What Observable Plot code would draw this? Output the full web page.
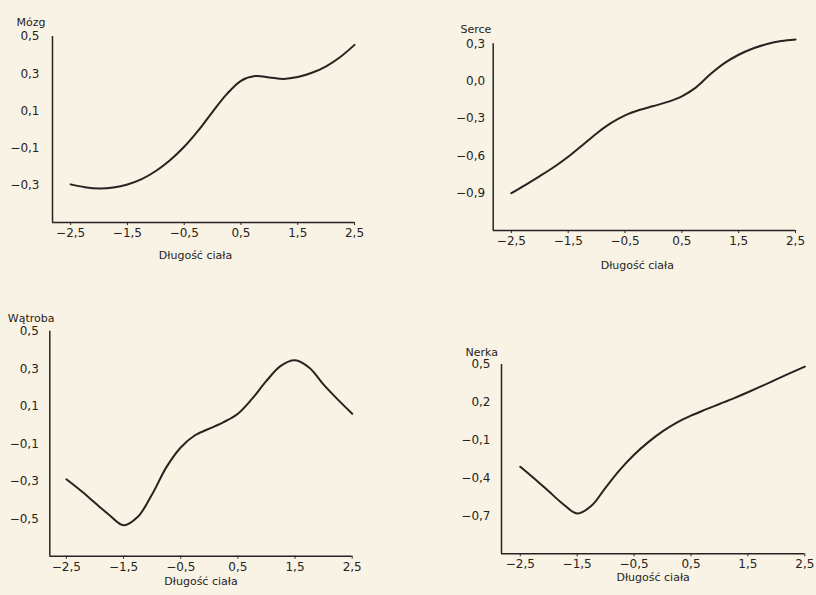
<!DOCTYPE html>
<html>
<head>
<meta charset="utf-8">
<script src="https://cdn.jsdelivr.net/npm/d3@7"></script>
<script src="https://cdn.jsdelivr.net/npm/@observablehq/plot@0.6"></script>
<style>
  html, body { margin: 0; padding: 0; background: #f9f3e5; }
  #wrap { position: relative; width: 816px; height: 595px; overflow: hidden; background: #f9f3e5; }
  #wrap > svg { position: absolute; background: transparent; }
</style>
</head>
<body>
<div id="wrap"></div>
<script>
// ---- data ----
const xValues = [-2.5, -2.25, -2.0, -1.75, -1.5, -1.25, -1.0, -0.75, -0.5, -0.25, 0.0,
                 0.25, 0.5, 0.75, 1.0, 1.25, 1.5, 1.75, 2.0, 2.25, 2.5];

const mozg    = [-0.295, -0.31, -0.317, -0.312, -0.296, -0.267, -0.223, -0.165, -0.093, -0.005, 0.095,
                 0.19, 0.262, 0.287, 0.28, 0.272, 0.282, 0.305, 0.34, 0.39, 0.455];
const serce   = [-0.9, -0.833, -0.763, -0.69, -0.608, -0.515, -0.42, -0.338, -0.275, -0.232, -0.2,
                 -0.167, -0.122, -0.05, 0.055, 0.145, 0.212, 0.262, 0.298, 0.322, 0.335];
const watroba = [-0.29, -0.35, -0.415, -0.48, -0.535, -0.49, -0.37, -0.225, -0.12, -0.055, -0.02,
                 0.015, 0.06, 0.14, 0.235, 0.315, 0.345, 0.305, 0.215, 0.135, 0.06];
const nerka   = [-0.31, -0.405, -0.505, -0.605, -0.68, -0.62, -0.475, -0.335, -0.215, -0.115, -0.03,
                 0.04, 0.095, 0.142, 0.187, 0.232, 0.28, 0.33, 0.382, 0.433, 0.483];

const xTicks = [-2.5, -1.5, -0.5, 0.5, 1.5, 2.5];
const mozgTicks    = [-0.3, -0.1, 0.1, 0.3, 0.5];
const serceTicks   = [-0.9, -0.6, -0.3, 0.0, 0.3];
const watrobaTicks = [-0.5, -0.3, -0.1, 0.1, 0.3, 0.5];
const nerkaTicks   = [-0.7, -0.4, -0.1, 0.2, 0.5];

const xLabel = "Długość ciała";

// ---- drawing ----
const ink = "#262321";
const fmt = d => (d < 0 ? "\u2212" : "") + Math.abs(d).toFixed(1).replace(".", ",");

function panel(cfg) {
  const data = xValues.map((x, i) => ({x, y: cfg.values[i]}));
  const p = Plot.plot({
    width: cfg.W, height: cfg.H,
    marginLeft: cfg.mL, marginRight: cfg.mR, marginTop: cfg.mT, marginBottom: cfg.mB,
    style: {fontFamily: "'DejaVu Sans', sans-serif", fontSize: "12px", color: ink, background: "transparent"},
    x: {domain: cfg.xDomain},
    y: {domain: cfg.yDomain},
    marks: [
      Plot.axisX({ticks: xTicks, tickFormat: fmt, tickSize: 3, tickPadding: 3, label: null, stroke: ink}),
      Plot.axisY({ticks: cfg.yTicks, tickFormat: fmt, tickSize: 0, tickPadding: cfg.yPad, label: null}),
      Plot.ruleY([cfg.yDomain[0]], {stroke: ink, strokeWidth: 1.5}),
      Plot.ruleX([cfg.xDomain[0]], {stroke: ink, strokeWidth: 1.5}),
      Plot.line(data, {x: "x", y: "y", curve: "catmull-rom", stroke: ink, strokeWidth: 2}),
      Plot.text([cfg.title], {frameAnchor: "top-left", textAnchor: "start", dx: cfg.tdx, dy: cfg.tdy, fontSize: 11, fill: ink}),
      Plot.text([xLabel], {frameAnchor: "bottom", dx: cfg.ldx, dy: cfg.ldy, fontSize: 11, fill: ink})
    ]
  });
  p.style.left = cfg.left + "px";
  p.style.top = cfg.top + "px";
  document.getElementById("wrap").appendChild(p);
}

panel({title: "Mózg", values: mozg, yTicks: mozgTicks, left: 0, top: 0, W: 408, H: 290,
       mL: 52, mR: 54, mT: 36, mB: 68, xDomain: [-2.82, 2.5], yDomain: [-0.5, 0.5], yPad: 13,
       tdx: -36, tdy: -18, ldx: -8, ldy: 36});
panel({title: "Serce", values: serce, yTicks: serceTicks, left: 408, top: 0, W: 408, H: 290,
       mL: 84.7, mR: 21, mT: 43.3, mB: 60, xDomain: [-2.82, 2.5], yDomain: [-1.2, 0.3], yPad: 8,
       tdx: -32.7, tdy: -18.3, ldx: -7, ldy: 38});
panel({title: "Wątroba", values: watroba, yTicks: watrobaTicks, left: 0, top: 297, W: 408, H: 298,
       mL: 49.3, mR: 56.3, mT: 33.7, mB: 39.3, xDomain: [-2.79, 2.5], yDomain: [-0.7, 0.5], yPad: 11,
       tdx: -42, tdy: -16.7, ldx: 0, ldy: 29});
panel({title: "Nerka", values: nerka, yTicks: nerkaTicks, left: 408, top: 297, W: 408, H: 298,
       mL: 93, mR: 11.7, mT: 67, mB: 41.7, xDomain: [-2.83, 2.5], yDomain: [-1.0, 0.5], yPad: 11,
       tdx: -36, tdy: -16.7, ldx: 0, ldy: 27});
</script>
</body>
</html>
